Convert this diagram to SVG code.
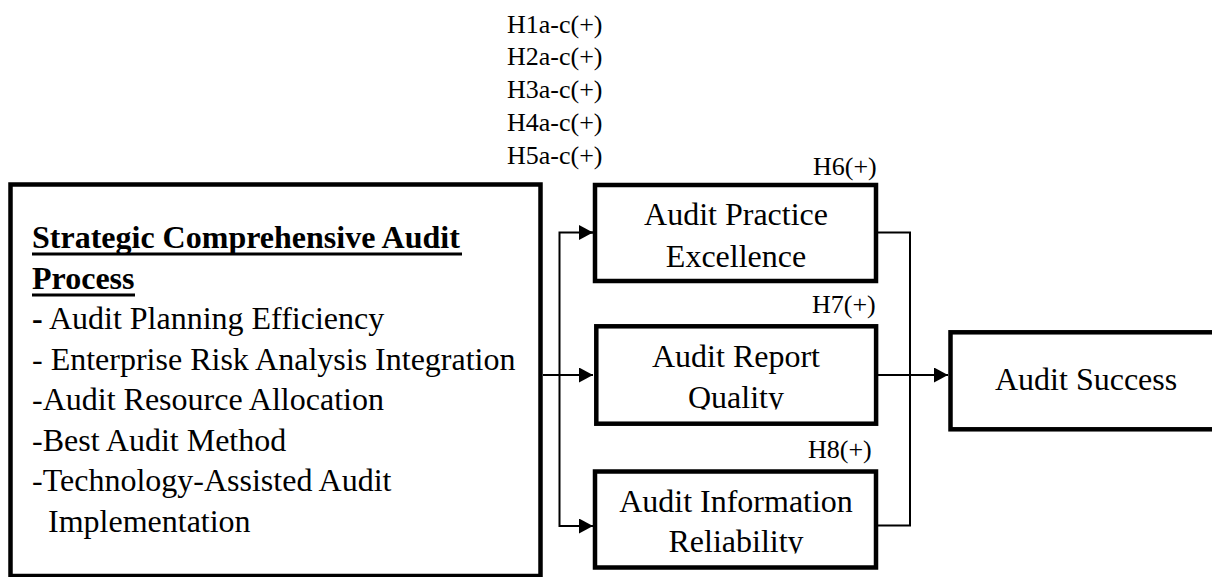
<svg xmlns="http://www.w3.org/2000/svg" width="1212" height="577" viewBox="0 0 1212 577">
  <style>
    .box { fill: #fff; stroke: #000; stroke-width: 4.5; }
    .wire { fill: none; stroke: #000; stroke-width: 2; }
    .rule { stroke: #000; stroke-width: 3; }
    .t { font-family: "Liberation Serif", "Times New Roman", serif; font-size: 32px; fill: #000; }
    .tc { text-anchor: middle; }
    .hyp { font-family: "Liberation Serif", "Times New Roman", serif; font-size: 26px; fill: #000; }
    .head { font-weight: bold; }
  </style>
  <defs>
    <marker id="arrow" viewBox="0 0 14 15" refX="14" refY="7.5" markerWidth="14" markerHeight="15" markerUnits="userSpaceOnUse" orient="auto">
      <path d="M0,0 L14,7.5 L0,15 Z" fill="#000"/>
    </marker>
    <clipPath id="clipQuality"><rect x="596" y="326" width="280" height="83.5"/></clipPath>
    <clipPath id="clipReliability"><rect x="595" y="471" width="281" height="82.5"/></clipPath>
  </defs>

  <rect width="1212" height="577" fill="#fff"/>

  <!-- hypothesis labels -->
  <g id="labels">
    <text class="hyp" x="507" y="33">H1a-c(+)</text>
    <text class="hyp" x="507" y="65">H2a-c(+)</text>
    <text class="hyp" x="507" y="98">H3a-c(+)</text>
    <text class="hyp" x="507" y="131">H4a-c(+)</text>
    <text class="hyp" x="507" y="164">H5a-c(+)</text>
    <text class="hyp" x="813" y="175">H6(+)</text>
    <text class="hyp" x="812" y="313">H7(+)</text>
    <text class="hyp" x="808" y="458">H8(+)</text>
  </g>

  <!-- connectors -->
  <g id="connectors">
    <line class="wire" x1="543" y1="375" x2="593" y2="375" marker-end="url(#arrow)"/>
    <polyline class="wire" points="593,232.5 559.5,232.5 559.5,526 593,526"/>
    <line class="wire" x1="579" y1="232.5" x2="593" y2="232.5" marker-end="url(#arrow)"/>
    <line class="wire" x1="579" y1="526" x2="593" y2="526" marker-end="url(#arrow)"/>
    <polyline class="wire" points="878,232.5 910,232.5 910,525.5 878,525.5"/>
    <line class="wire" x1="878" y1="375" x2="948" y2="375" marker-end="url(#arrow)"/>
  </g>

  <!-- independent construct -->
  <g id="node-process">
    <rect class="box" x="10.5" y="184.5" width="530" height="391.5"/>
    <text class="t head" x="32" y="248">Strategic Comprehensive Audit</text>
    <line class="rule" x1="32" y1="254" x2="462" y2="254"/>
    <text class="t head" x="32" y="289">Process</text>
    <line class="rule" x1="32" y1="295" x2="135" y2="295"/>
    <text class="t" x="32" y="329"><tspan font-weight="bold">-</tspan> Audit Planning Efficiency</text>
    <text class="t" x="32" y="370">- Enterprise Risk Analysis Integration</text>
    <text class="t" x="32" y="410">-Audit Resource Allocation</text>
    <text class="t" x="32" y="451">-Best Audit Method</text>
    <text class="t" x="32" y="491">-Technology-Assisted Audit</text>
    <text class="t" x="48" y="532">Implementation</text>
  </g>

  <!-- mediators -->
  <g id="node-practice">
    <rect class="box" x="595" y="185" width="281" height="96"/>
    <text class="t tc" x="736" y="225">Audit Practice</text>
    <text class="t tc" x="736" y="267">Excellence</text>
  </g>

  <g id="node-report">
    <rect class="box" x="596.3" y="326.3" width="279.8" height="97.4"/>
    <text class="t tc" x="736" y="367">Audit Report</text>
    <text class="t tc" x="736" y="408" clip-path="url(#clipQuality)">Quality</text>
  </g>

  <g id="node-information">
    <rect class="box" x="595" y="471.5" width="281" height="96"/>
    <text class="t tc" x="736" y="512">Audit Information</text>
    <text class="t tc" x="736" y="552" clip-path="url(#clipReliability)">Reliability</text>
  </g>

  <!-- outcome -->
  <g id="node-success">
    <rect class="box" x="950.5" y="332.3" width="300" height="97"/>
    <text class="t" x="995" y="390">Audit Success</text>
  </g>
</svg>
